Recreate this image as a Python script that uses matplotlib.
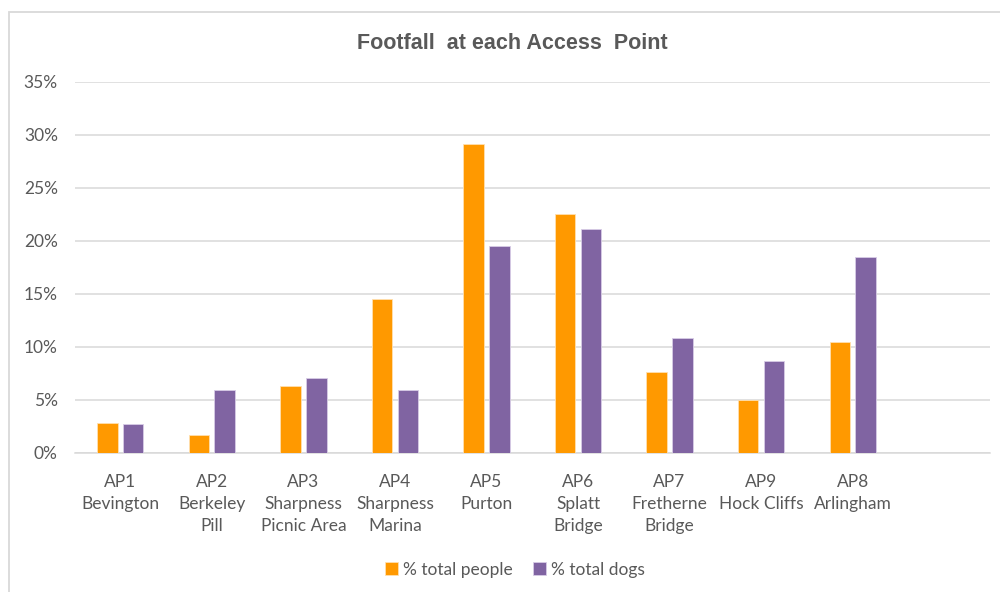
import numpy as np
import matplotlib.pyplot as plt
from matplotlib.patches import Rectangle
from matplotlib.ticker import FuncFormatter

plt.rcParams['font.family'] = ['Lato', 'DejaVu Sans']

categories = ['AP1\nBevington', 'AP2\nBerkeley\nPill', 'AP3\nSharpness\nPicnic Area',
              'AP4\nSharpness\nMarina', 'AP5\nPurton', 'AP6\nSplatt\nBridge',
              'AP7\nFretherne\nBridge', 'AP9\nHock Cliffs', 'AP8\nArlingham', '']
people = [0.0283, 0.0172, 0.0634, 0.1454, 0.2908, 0.2255, 0.0760, 0.0499, 0.1043, np.nan]
dogs = [0.0270, 0.0597, 0.0703, 0.0597, 0.1950, 0.2110, 0.1087, 0.0870, 0.1847, np.nan]

orange = '#FF9900'
purple = '#8064A2'
grid_col = '#D9D9D9'
text_col = '#595959'

fig = plt.figure(figsize=(10, 5.92), dpi=100)
ax = fig.add_axes([0.0745, 0.2348, 0.9155, 0.6272])

# chart frame (only the top and left edges fall inside the image)
fig.patches.append(Rectangle((0.009, -0.1), 1.2, 0.1 + 0.9797, transform=fig.transFigure,
                             fill=False, edgecolor=grid_col, linewidth=1.3))

x = np.arange(len(categories))
w = 0.224
off = 0.141
ax.bar(x - off, people, w, color=orange, edgecolor='#FFE0B0', linewidth=0.6,
       label='% total people', zorder=3)
ax.bar(x + off, dogs, w, color=purple, edgecolor='#D8CCE6', linewidth=0.6,
       label='% total dogs', zorder=3)

ax.set_xlim(-0.5, len(categories) - 0.5)
ax.set_ylim(0, 0.35)
ax.set_yticks(np.arange(0, 0.351, 0.05))
ax.yaxis.set_major_formatter(FuncFormatter(lambda v, p: f'{v * 100:.0f}%'))
ax.set_xticks(x)
ax.set_xticklabels(categories, linespacing=1.45)
ax.tick_params(axis='both', length=0, colors=text_col, labelsize=12.5)
ax.tick_params(axis='x', pad=15)
ax.tick_params(axis='y', pad=12)
ax.yaxis.grid(True, color=grid_col, linewidth=1.1, zorder=0)
for s in ['top', 'right', 'left']:
    ax.spines[s].set_visible(False)
ax.spines['bottom'].set_color(grid_col)
ax.spines['bottom'].set_linewidth(1.1)

fig.text(0.512, 0.927, 'Footfall  at each Access  Point', ha='center', va='center',
         fontsize=15.5, fontweight='bold', color=text_col, family='Liberation Sans')

fig.legend(loc='center', bbox_to_anchor=(0.515, 0.038), ncol=2, frameon=False,
           fontsize=12.5, labelcolor=text_col, handlelength=0.7, handleheight=0.7,
           handletextpad=0.3, columnspacing=1.2)

fig.savefig('out.png', dpi=100)
